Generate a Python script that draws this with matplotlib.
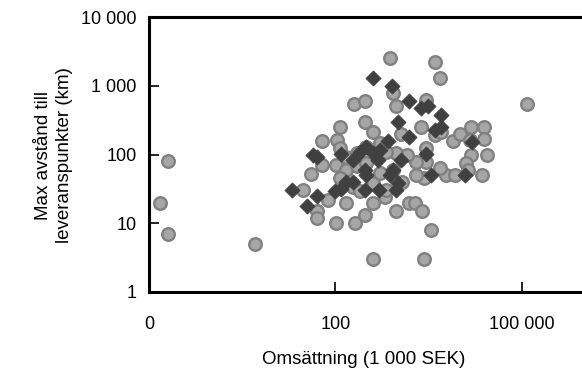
import matplotlib
matplotlib.use("Agg")
import matplotlib.pyplot as plt
from matplotlib.ticker import FixedLocator, FixedFormatter, NullLocator

plt.rcParams['font.family'] = ['Liberation Sans', 'DejaVu Sans']

# Grey circles (omsättning in 1 000 SEK, max avstånd in km)
circle_x = [750, 4000, 4800, 120000, 200, 300, 850, 950, 2900, 300,
            120, 400, 60, 105, 118, 1150, 2400, 4000, 5000, 7800,
            10000, 15000, 25000, 25000, 14500, 0.2, 2900, 15000, 27000, 12800,
            13600, 23000, 6100, 8300, 4800, 2900, 2700, 2000, 2000, 1400,
            960, 60, 104, 150, 220, 315, 520, 660, 41, 30,
            76, 150, 50, 50, 104, 205, 300, 400, 620, 660,
            1200, 960, 1500, 1900, 2500, 3500, 0.15, 0.2, 5, 400,
            2700, 118, 190, 250, 400, 520, 850, 315, 150, 220]
circle_y = [2500, 2200, 1300, 550, 550, 600, 780, 500, 620, 300,
            250, 215, 155, 160, 123, 200, 250, 190, 215, 155,
            200, 250, 250, 170, 160, 80, 123, 100, 100, 75,
            60, 50, 50, 50, 63, 79, 45, 50, 79, 98,
            104, 70, 70, 60, 67, 130, 145, 110, 52, 30,
            22, 20, 15, 12, 10, 10, 13, 20, 24, 30,
            40, 15, 20, 20, 15, 8, 20, 7, 5, 3,
            3, 45, 34, 29, 38, 53, 60, 74, 93, 104]

# Dark diamonds
diamond_x = [400, 800, 1500, 2400, 3100, 5000, 1000, 4000, 5000, 1500,
             700, 2900, 16000, 44, 50, 122, 190, 250, 315, 400,
             520, 490, 1150, 850, 750, 300, 315, 3500, 12000, 150,
             193, 125, 98, 300, 505, 1000, 960, 20, 50, 35]
diamond_y = [1300, 1000, 600, 470, 510, 375, 300, 227, 254, 180,
             155, 102, 150, 100, 93, 102, 83, 110, 130, 104,
             116, 83, 83, 60, 50, 60, 50, 50, 50, 40,
             40, 32, 29, 30, 30, 38, 30, 30, 25, 18]

x_ticks = [0.1, 100, 100000]
x_tick_labels = ["0", "100", "100 000"]
y_ticks = [1, 10, 100, 1000, 10000]
y_tick_labels = ["1", "10", "100", "1 000", "10 000"]

W, H = 582, 374
fig = plt.figure(figsize=(W / 100, H / 100), dpi=100)
ax = fig.add_axes([149 / W, (H - 292) / H, 435 / W, 275 / H])

ax.scatter(circle_x, circle_y, s=82, marker='o', facecolor='#a6a6a6',
           edgecolor='#808080', linewidths=1.7, zorder=2)
ax.scatter(diamond_x, diamond_y, s=60, marker='D', facecolor='#404040',
           edgecolor='#404040', linewidths=0.5, zorder=3)

ax.set_xscale('log')
ax.set_yscale('log')
ax.set_xlim(0.1, 1e6)
ax.set_ylim(1, 10000)

ax.xaxis.set_major_locator(FixedLocator(x_ticks))
ax.xaxis.set_major_formatter(FixedFormatter(x_tick_labels))
ax.xaxis.set_minor_locator(NullLocator())
ax.yaxis.set_major_locator(FixedLocator(y_ticks))
ax.yaxis.set_major_formatter(FixedFormatter(y_tick_labels))
ax.yaxis.set_minor_locator(NullLocator())

for side in ['left', 'bottom', 'top']:
    ax.spines[side].set_linewidth(2.2)
    ax.spines[side].set_color('black')
ax.spines['right'].set_visible(False)

ax.tick_params(axis='x', direction='in', length=7, width=1.2, pad=17,
               labelsize=13, colors='black')
ax.tick_params(axis='y', direction='in', length=7, width=1.2, pad=9,
               labelsize=13, colors='black')

fig.text(364 / W, (H - 360) / H, "Omsättning (1 000 SEK)", ha='center',
         va='center', fontsize=13.5)
fig.text(54 / W, (H - 155) / H, "Max avstånd till\nleveranspunkter (km)",
         ha='center', va='center', rotation=90, fontsize=13.5,
         linespacing=1.25)

fig.savefig("out.png", dpi=100)
